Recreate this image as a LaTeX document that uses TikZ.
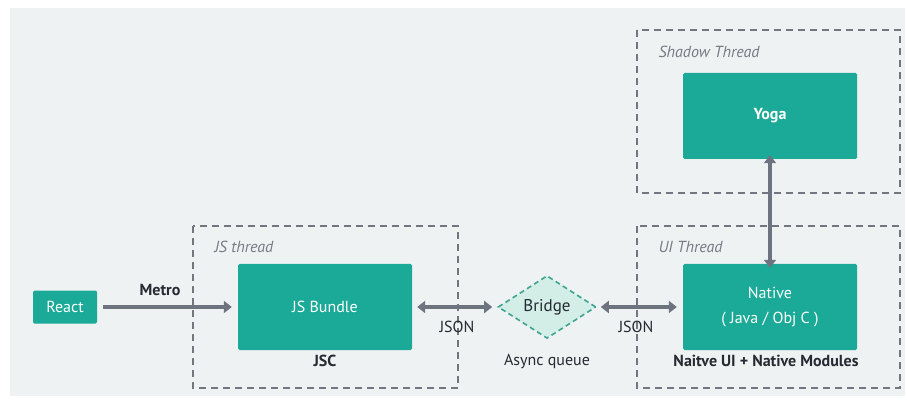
\documentclass[tikz,border=0pt]{standalone}
\usepackage{fontspec}
\setmainfont{PT Sans}
\usetikzlibrary{shapes.geometric,arrows.meta}
\definecolor{panelbg}{HTML}{EEF2F3}
\definecolor{teal}{HTML}{1AAA97}
\definecolor{bridgebg}{HTML}{D3EEE7}
\definecolor{bridgeline}{HTML}{3FA48F}
\definecolor{arrowgrey}{HTML}{6E7380}
\definecolor{framegrey}{HTML}{72767E}
\definecolor{labelgrey}{HTML}{767B84}
\definecolor{textdark}{HTML}{262A31}
\tikzset{
  block/.style={fill=teal, rounded corners=1.5pt, text=white, font=\fontsize{16}{19}\selectfont, align=center, inner sep=0pt},
  thread/.style={draw=framegrey, dashed, dash pattern=on 7pt off 5pt, line width=1.3pt},
  threadlabel/.style={text=labelgrey, font=\fontsize{16}{19}\selectfont\itshape, anchor=west},
  caption/.style={text=textdark, font=\fontsize{16}{19}\selectfont},
  link/.style={draw=arrowgrey, line width=3.6pt, -{Triangle[length=8pt,width=12pt]}},
  duplex/.style={draw=arrowgrey, line width=3.6pt, {Triangle[length=8pt,width=12pt]}-{Triangle[length=8pt,width=12pt]}}
}
\begin{document}
\begin{tikzpicture}[x=1pt,y=-1pt]
  % Background
  \useasboundingbox (0,0) rectangle (907,403);
  \fill[white] (0,0) rectangle (907,403);
  \fill[panelbg] (10,8) rectangle (905,396);

  % Threads
  \draw[thread] (193,226) rectangle (458,388);
  \draw[thread] (637,226) rectangle (900,388);
  \draw[thread] (637,30) rectangle (900,193);
  \node[threadlabel] (jsthread) at (211,247) {JS thread};
  \node[threadlabel] (uithread) at (655,247) {UI Thread};
  \node[threadlabel] (shadowthread) at (655,52) {Shadow Thread};

  % Nodes
  \node[block, minimum width=64pt, minimum height=33pt] (react) at (65,307) {React};
  \node[block, minimum width=174pt, minimum height=86pt] (bundle) at (325,307) {JS Bundle};
  \node[diamond, draw=bridgeline, fill=bridgebg, dashed, dash pattern=on 5pt off 3.5pt, line width=1.6pt,
        minimum width=98pt, minimum height=57pt, inner sep=0pt, text=textdark,
        font=\fontsize{17}{20}\selectfont] (bridge) at (547,307) {Bridge};
  \node[block, minimum width=174pt, minimum height=86pt] (native) at (770,307) {Native\\[6pt]( Java / Obj C )};
  \node[block, minimum width=174pt, minimum height=86pt] (yoga) at (770,116) {\bfseries Yoga};

  % Captions
  \node[caption, font=\fontsize{16}{19}\selectfont\bfseries] (metro) at (160,290) {Metro};
  \node[caption, font=\fontsize{16}{19}\selectfont\bfseries] (jsc) at (325,361) {JSC};
  \node[caption] (jsonleft) at (457,327) {JSON};
  \node[caption] (jsonright) at (636,327) {JSON};
  \node[caption] (queue) at (547,361) {Async queue};
  \node[caption, font=\fontsize{16}{19}\selectfont\bfseries] (modules) at (766,361) {Naitve UI + Native Modules};

  % Arrows
  \draw[link] ([xshift=6pt]react.east) -- ([xshift=-6pt]bundle.west);
  \draw[duplex] ([xshift=5pt]bundle.east) -- ([xshift=-5pt]bridge.west);
  \draw[duplex] ([xshift=4pt]bridge.east) -- ([xshift=-6pt]native.west);
  \draw[duplex] ([yshift=4pt]yoga.south) -- ([yshift=-4pt]native.north);
\end{tikzpicture}
\end{document}
